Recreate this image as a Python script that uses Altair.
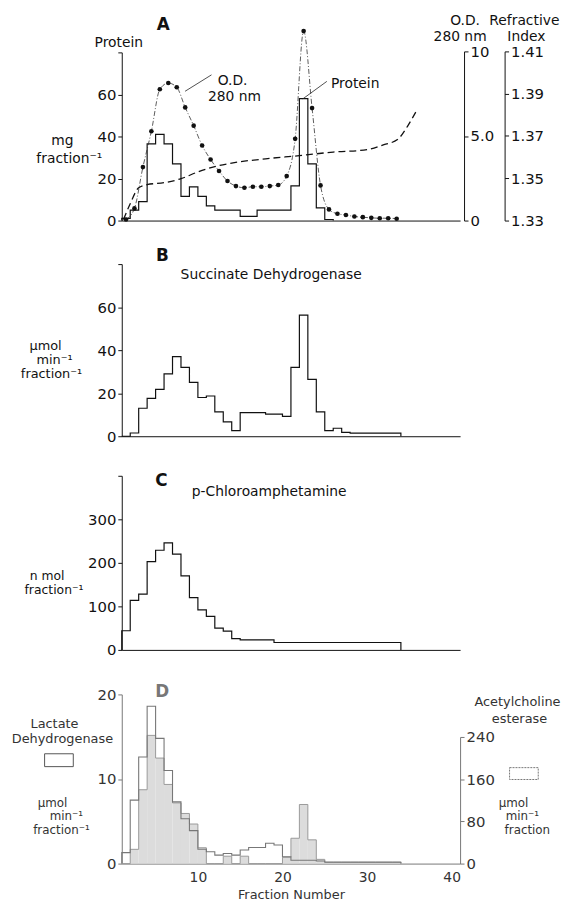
import altair as alt
import pandas as pd

FONT = "DejaVu Sans"

# ---------------- data ----------------
# Panel A: protein per fraction (mg), fractions 1..25
protein_mg = [1, 5, 9, 36.5, 41, 36.5, 27, 11.5, 16, 11.5, 7, 5, 5, 5, 2, 2,
              5, 5, 5, 5, 16.5, 58, 27, 6, 0.5]
# O.D. 280 nm, one point per fraction (1..33), plotted at fraction centre
od280 = [0.06, 0.72, 3.16, 5.28, 7.76, 8.13, 7.88, 6.69, 5.61, 4.44, 3.61,
         2.93, 2.34, 2.04, 1.94, 2.0, 2.0, 2.04, 2.1, 2.63, 4.83, 11.2, 6.65,
         2.08, 0.66, 0.40, 0.33, 0.24, 0.20, 0.16, 0.14, 0.14, 0.11]
# Refractive index gradient
ri_fraction = [1.2, 2, 3, 4, 6, 8, 10, 12, 14, 18, 22, 26, 30, 32, 33.6, 34.8, 35.8]
ri_value = [1.3305, 1.3380, 1.3455, 1.3470, 1.3479, 1.3498, 1.3530, 1.3555,
            1.3572, 1.3592, 1.3607, 1.3624, 1.3635, 1.3659, 1.3683, 1.3747, 1.3816]

# Panel B: succinate dehydrogenase, fractions 1..33
succinate = [0, 1.5, 13, 17.6, 21.8, 29, 37, 32, 25, 18, 18.7, 11.3, 6.7, 2.6,
             11, 11, 11, 10.3, 10.3, 9.2, 32, 56.3, 26.4, 11.3, 2.6, 3.7, 1.8,
             1.4, 1.4, 1.4, 1.4, 1.4, 1.4]

# Panel C: p-chloroamphetamine, fractions 1..33
pca = [44, 114, 128, 203, 229, 246, 220, 170, 120, 92, 77, 50, 43, 26, 23, 23,
       23, 23, 17, 17, 17, 17, 17, 17, 17, 17, 17, 17, 17, 17, 17, 17, 17]

# Panel D: lactate dehydrogenase (left axis) and acetylcholine esterase (right axis)
ldh = [1.3, 7.5, 12.6, 18.6, 14.8, 11.0, 7.3, 5.3, 3.9, 1.7, 1.4, 1.0, 1.2,
       1.0, 1.6, 1.9, 1.9, 2.4, 2.2, 0.8, 0.4, 0.4, 0.4, 0.3, 0.15, 0.15, 0.15,
       0.15, 0.15, 0.15, 0.15, 0.15, 0.15]
ache = [0, 27, 140, 243, 200, 150, 115, 95, 75, 30, 0, 0, 14, 0, 14, 0, 0, 0,
        0, 12, 48, 112, 45, 8, 3, 3, 3, 3, 3, 3, 3, 3, 3]

x_ticks_d = [10, 20, 30, 40]


def hist_df(values):
    n = len(values)
    f = [1] + [1 + i for i in range(n)] + [1 + n]
    v = [0] + list(values) + [0]
    return pd.DataFrame({"f": f, "v": v, "i": list(range(len(f)))})


one = pd.DataFrame({"a": [0]})
XS = alt.Scale(domain=[1, 41], nice=False, zero=False)
X_PLAIN = alt.Axis(labels=False, ticks=False, domain=True, title=None, grid=False,
                   domainColor="#111")


def xenc(axis=X_PLAIN):
    return alt.X("f:Q", scale=XS, axis=axis)


def txt(s, x, y, size=14, weight="normal", color="#111", align="center"):
    return alt.Chart(one).mark_text(text=s, font=FONT, fontSize=size,
                                    fontWeight=weight, color=color, align=align,
                                    baseline="middle").encode(
        x=alt.value(x), y=alt.value(y))


def seg(x1, y1, x2, y2, color="#222", w=0.8):
    return alt.Chart(one).mark_rule(color=color, strokeWidth=w).encode(
        x=alt.value(x1), y=alt.value(y1), x2=alt.value(x2), y2=alt.value(y2))


def box(x1, y1, x2, y2, color="#666", dash=None):
    kw = dict(fill="white", fillOpacity=0, stroke=color, strokeWidth=1)
    if dash:
        kw["strokeDash"] = dash
    return alt.Chart(one).mark_rect(**kw).encode(
        x=alt.value(x1), y=alt.value(y1), x2=alt.value(x2), y2=alt.value(y2))


W = 342

# ---------------- Panel A ----------------
HA = 210
pA = alt.Chart(hist_df(protein_mg)).mark_line(
    interpolate="step-after", color="#111", strokeWidth=1.2).encode(
    x=xenc(),
    y=alt.Y("v:Q", scale=alt.Scale(domain=[0, 80], range=[HA, 40], nice=False),
            axis=alt.Axis(orient="left", values=[0, 20, 40, 60, 80], title=None,
                          labelExpr="datum.value == 80 ? '' : datum.label")),
    order="i:Q")

od_df = pd.DataFrame({"f": [n + 0.5 for n in range(1, len(od280) + 1)], "v": od280})
OD_SCALE = alt.Scale(domain=[0, 10], range=[HA, 39], nice=False)
od_line = alt.Chart(od_df).mark_line(
    interpolate="monotone", color="#333", strokeWidth=0.8,
    strokeDash=[5, 2, 1, 2]).encode(
    x=xenc(), y=alt.Y("v:Q", scale=OD_SCALE, axis=None))
od_dots = alt.Chart(od_df).mark_circle(size=22, color="#111", opacity=1).encode(
    x=xenc(),
    y=alt.Y("v:Q", scale=OD_SCALE,
            axis=alt.Axis(orient="right", values=[0, 5, 10], title=None, offset=4,
                          labelExpr="datum.value == 5 ? '5.0' : datum.label")))
ri_df = pd.DataFrame({"f": ri_fraction, "v": ri_value})
ri_line = alt.Chart(ri_df).mark_line(
    interpolate="monotone", color="#111", strokeWidth=1.3, strokeDash=[7, 4]).encode(
    x=xenc(),
    y=alt.Y("v:Q", scale=alt.Scale(domain=[1.33, 1.41], range=[HA, 39], nice=False, zero=False),
            axis=alt.Axis(orient="right", values=[1.33, 1.35, 1.37, 1.39, 1.41],
                          format=".2f", offset=45, title=None)))

panelA = alt.layer(
    pA, od_line, od_dots, ri_line,
    txt("A", 42, 12, size=17, weight="bold"),
    txt("Protein", -3, 31),
    txt("mg", -60, 130),
    txt("fraction⁻¹", -53, 148),
    txt("O.D.", 112, 69),
    txt("280 nm", 114, 85),
    seg(90.7, 62.7, 64, 79.3),
    txt("Protein", 236, 72),
    seg(207.3, 69.3, 183, 87),
    txt("O.D.", 347, 8),
    txt("280 nm", 342, 24),
    txt("Refractive", 407, 8),
    txt("Index", 409, 24),
).resolve_scale(y="independent").resolve_axis(y="independent").properties(width=W, height=HA)

# ---------------- Panel B ----------------
HB = 218
pB = alt.Chart(hist_df(succinate)).mark_line(
    interpolate="step-after", color="#111", strokeWidth=1.2).encode(
    x=xenc(),
    y=alt.Y("v:Q", scale=alt.Scale(domain=[0, 80], range=[HB, 44], nice=False),
            axis=alt.Axis(orient="left", values=[0, 20, 40, 60, 80], title=None,
                          labelExpr="datum.value == 80 ? '' : datum.label")),
    order="i:Q")
panelB = alt.layer(
    pB,
    txt("B", 41, 36, size=17, weight="bold"),
    txt("Succinate Dehydrogenase", 151, 55),
    txt("μmol", -77, 127, size=13),
    txt("min⁻¹", -68, 141, size=13),
    txt("fraction⁻¹", -71, 155, size=13),
).properties(width=W, height=HB)

# ---------------- Panel C ----------------
HC = 216
pC = alt.Chart(hist_df(pca)).mark_line(
    interpolate="step-after", color="#111", strokeWidth=1.2).encode(
    x=xenc(),
    y=alt.Y("v:Q", scale=alt.Scale(domain=[0, 400], range=[HC, 40], nice=False),
            axis=alt.Axis(orient="left", values=[0, 100, 200, 300, 400], title=None,
                          labelExpr="datum.value == 400 ? '' : datum.label")),
    order="i:Q")
panelC = alt.layer(
    pC,
    txt("C", 40, 45, size=17, weight="bold"),
    txt("p-Chloroamphetamine", 149, 56),
    txt("n mol", -75.5, 141, size=12.5),
    txt("fraction⁻¹", -68.5, 155, size=12.5),
).properties(width=W, height=HC)

# ---------------- Panel D ----------------
HD = 216
GRAY = "#777"
X_D = alt.Axis(values=x_ticks_d, ticks=False, tickSize=0, labelPadding=7, domain=True,
               domainColor=GRAY, labelColor="#333", title="Fraction Number",
               titleFont=FONT, titleFontSize=13, titleFontWeight="normal",
               titleColor="#333", titlePadding=4, grid=False, labelFontSize=14)
ACHE_SCALE = alt.Scale(domain=[0, 240], range=[HD, 88], nice=False)
ache_area = alt.Chart(hist_df(ache)).mark_area(
    interpolate="step-after", color="#dcdcdc", opacity=1).encode(
    x=xenc(X_D),
    y=alt.Y("v:Q", scale=ACHE_SCALE,
            axis=alt.Axis(orient="right", values=[0, 80, 160, 240], title=None,
                          domainColor=GRAY, tickColor=GRAY, labelColor="#333")),
    order="i:Q")
ache_line = alt.Chart(hist_df(ache)).mark_line(
    interpolate="step-after", color="#9a9a9a", strokeWidth=1).encode(
    x=xenc(X_D), y=alt.Y("v:Q", scale=ACHE_SCALE, axis=None), order="i:Q")
ldh_line = alt.Chart(hist_df(ldh)).mark_line(
    interpolate="step-after", color=GRAY, strokeWidth=1.1).encode(
    x=xenc(X_D),
    y=alt.Y("v:Q", scale=alt.Scale(domain=[0, 20], range=[HD, 45], nice=False),
            axis=alt.Axis(orient="left", values=[0, 10, 20], title=None,
                          domainColor=GRAY, tickColor=GRAY, labelColor="#333")),
    order="i:Q")
panelD = alt.layer(
    ache_area, ache_line, ldh_line,
    txt("D", 41, 43, size=17, weight="bold", color="#777"),
    txt("Lactate", -68, 75, size=13, color="#333"),
    txt("Dehydrogenase", -60, 90, size=13, color="#333"),
    box(-78, 105, -49, 118, color="#555"),
    txt("μmol", -70, 155, size=12, color="#333"),
    txt("min⁻¹", -56, 168, size=12, color="#333"),
    txt("fraction⁻¹", -61, 182, size=12, color="#333"),
    txt("Acetylcholine", 400, 53, size=13, color="#333"),
    txt("esterase", 402, 70, size=13, color="#333"),
    box(392, 119, 421, 131, color="#777", dash=[2, 1]),
    txt("μmol", 396, 155, size=12, color="#333"),
    txt("min⁻¹", 405, 168, size=12, color="#333"),
    txt("fraction", 410, 182, size=12, color="#333"),
).resolve_scale(y="independent").resolve_axis(y="independent").properties(width=W, height=HD)

chart = alt.vconcat(panelA, panelB, panelC, panelD, spacing=0, bounds="flush").properties(
    padding={"left": 3, "right": 0, "top": 0, "bottom": 0}
).configure_view(stroke=None).configure_axis(
    labelFont=FONT, labelFontSize=15, labelColor="#111", domainColor="#111",
    tickColor="#111", tickSize=4, labelPadding=2, grid=False, titleFont=FONT
)

chart.save("out.html", embed_options={"renderer": "svg", "actions": False})
